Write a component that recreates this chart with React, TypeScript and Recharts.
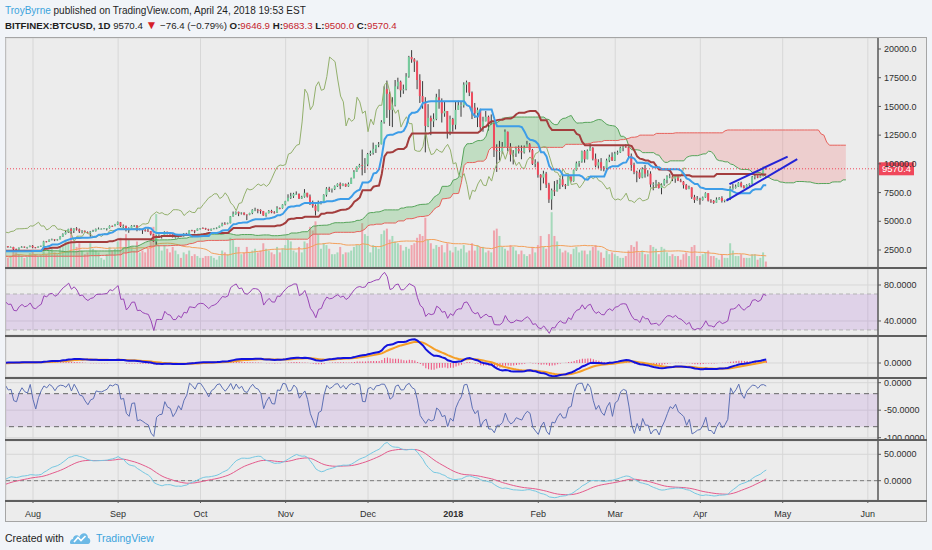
import React from 'react';
import {
  ComposedChart, Bar, Line, Area, XAxis, YAxis, CartesianGrid, ReferenceLine, ReferenceArea,
} from 'recharts';

// BITFINEX:BTCUSD daily. Closes before the visible window only warm up the indicators.
// Feb 20 2017 .. Jul 21 2017
const histClose = [
  1050, 1115, 1120, 1170, 1175, 1150, 1165, 1190, 1190,
  1225, 1250, 1280, 1260, 1270, 1275, 1230, 1150, 1190, 1110, 1180, 1225, 1240, 1245, 1255, 1170, 1070, 960, 1020, 1045, 1115, 1040, 1040, 935, 965, 970, 1045, 1045, 1040, 1035, 1080,
  1090, 1100, 1150, 1140, 1130, 1190, 1195, 1180, 1200, 1210, 1225, 1210, 1180, 1190, 1190, 1185, 1210, 1220, 1230, 1255, 1260, 1250, 1250, 1250, 1270, 1305, 1340, 1330, 1340, 1350,
  1420, 1455, 1490, 1520, 1530, 1560, 1550, 1640, 1700, 1760, 1800, 1690, 1760, 1760, 1700, 1720, 1800, 1870, 1960, 2040, 2045, 2150, 2280, 2460, 2330, 2180, 2050, 2200, 2280, 2180, 2300,
  2420, 2480, 2540, 2520, 2690, 2860, 2700, 2790, 2810, 2890, 2980, 2650, 2720, 2490, 2440, 2500, 2650, 2520, 2600, 2740, 2650, 2700, 2700, 2580, 2560, 2460, 2570, 2560, 2530, 2480,
  2420, 2530, 2580, 2590, 2610, 2600, 2500, 2560, 2500, 2340, 2330, 2400, 2350, 2220, 1970, 1900, 2240, 2300, 2270, 2830, 2700,
];

// visible bars, Jul 22 2017 .. Apr 25 2018 (open = previous close)
const close = [
  2830, 2750, 2760, 2560, 2540, 2700, 2790, 2720, 2760, 2870,
  2730, 2700, 2800, 2860, 3250, 3220, 3390, 3420, 3350, 3430, 3650, 3880, 4060, 4320, 4160, 4380, 4290, 4120, 4170, 4060, 4000, 4110, 4150, 4330, 4350, 4350, 4370, 4390, 4600, 4580, 4740,
  4920, 4580, 4600, 4240, 4380, 4610, 4620, 4300, 4320, 4220, 4180, 4150, 3870, 3240, 3700, 3700, 3700, 4090, 3920, 3880, 3620, 3620, 3790, 3680, 3930, 3890, 4210, 4190, 4170, 4360,
  4400, 4390, 4310, 4220, 4330, 4370, 4440, 4600, 4780, 4760, 4830, 5430, 5640, 5820, 5680, 5750, 5590, 5560, 5720, 6000, 6010, 5990, 5890, 5500, 5720, 5900, 5770, 5760, 6150, 6140, 6460,
  6750, 7050, 7180, 7390, 7390, 6980, 7130, 7480, 7150, 6600, 6360, 5920, 6550, 6620, 7300, 7850, 7730, 7800, 8050, 8250, 8100, 8240, 8040, 8250, 8750, 9300, 9750, 9900, 9850, 9950,
  10850, 10950, 11300, 11620, 11700, 13650, 16500, 16100, 14700, 15100, 16750, 17150, 16400, 16500, 17600, 19300, 19100, 18900, 17300, 15900, 15400, 13300, 14000, 13700, 13900, 15800, 15400, 14400, 14600, 12800, 13900,
  13400, 14700, 15100, 15100, 16900, 17100, 16200, 14900, 14400, 14700, 13200, 13700, 14100, 13500, 13500, 11200, 11100, 11100, 11500, 12800, 11500, 10800, 10900, 11300, 11100, 11000, 11400, 11700, 11200, 10000, 10100,
  9050, 8800, 9150, 8200, 6900, 7700, 7600, 8250, 8650, 8150, 8100, 8900, 8500, 9450, 10050, 10200, 11100, 10400, 11150, 11400, 10450, 9850, 10150, 9650, 9600, 10300, 10600, 10300,
  10900, 11000, 11400, 11500, 11450, 10700, 9900, 9300, 9250, 8800, 9550, 9150, 9150, 8200, 8250, 8300, 7900, 8200, 8600, 8900, 8900, 8700, 8900, 8550, 8450, 8150, 7800, 7950, 7100, 6850, 6950,
  6850, 7080, 7450, 6800, 6780, 6620, 6900, 7030, 6770, 6840, 6950, 7900, 7900, 8020, 8350, 8050, 7900, 8160, 8270, 8850, 8920, 8800, 8950, 9646.9, 9570.4,
];

const high = [
  2880, 2840, 2800, 2780, 2620, 2720, 2830, 2800, 2770, 2890,
  2930, 2760, 2820, 2880, 3300, 3280, 3420, 3490, 3440, 3460, 3700, 3950, 4190, 4350, 4430, 4400, 4490, 4370, 4230, 4200, 4110, 4160, 4260, 4370, 4460, 4380, 4410, 4400, 4640, 4630, 4770,
  4980, 4940, 4720, 4620, 4470, 4660, 4680, 4670, 4380, 4340, 4310, 4380, 4160, 3900, 3780, 3860, 3790, 4130, 4090, 4050, 3900, 3730, 3820, 3800, 3970, 3990, 4220, 4260, 4220, 4370,
  4410, 4470, 4430, 4350, 4370, 4420, 4470, 4620, 4880, 4920, 4880, 5450, 5850, 5860, 5840, 5780, 5770, 5600, 5740, 6050, 6180, 6080, 6040, 5900, 5750, 5980, 6000, 5880, 6310, 6200, 6480,
  6780, 7350, 7480, 7480, 7600, 7410, 7220, 7800, 7480, 7330, 6800, 6470, 6800, 6750, 7350, 7970, 8000, 7850, 8120, 8300, 8380, 8300, 8290, 8380, 8800, 9450, 9780, 10000, 11250, 10500,
  10950, 11150, 11850, 11650, 11900, 13800, 16750, 17250, 16300, 15800, 17300, 17500, 17250, 16900, 17900, 19400, 19900, 19200, 19000, 17800, 17200, 15800, 15200, 14200, 14400, 16100, 16500, 15700, 15400, 14600, 14200,
  14000, 15400, 15500, 15400, 17100, 17250, 17100, 16300, 15300, 14900, 14800, 14100, 14600, 14200, 14300, 13600, 11700, 12000, 11900, 13000, 12800, 11800, 11200, 11500, 11600, 11600, 11600, 12000, 11800, 11300, 10400,
  10200, 9100, 9400, 9300, 8350, 7850, 8500, 8600, 8750, 9000, 8250, 8950, 8900, 9500, 10200, 10250, 11150, 11200, 11250, 11800, 11450, 10900, 10400, 10500, 9800, 10450, 10800, 11000,
  11050, 11150, 11500, 11550, 11700, 11500, 10900, 10100, 9400, 9500, 9700, 9900, 9450, 9350, 8400, 8600, 8400, 8300, 8700, 9000, 9150, 9100, 8950, 9000, 8700, 8500, 8250, 8100, 7950, 7300, 7200,
  7050, 7150, 7520, 7450, 6920, 6850, 7080, 7100, 7180, 6880, 6980, 8050, 8250, 8200, 8400, 8450, 8150, 8220, 8300, 8950, 9050, 9000, 9000, 9750, 9683.3,
];

const low = [
  2670, 2700, 2710, 2490, 2450, 2530, 2690, 2690, 2620, 2740,
  2650, 2650, 2690, 2760, 2850, 3160, 3200, 3350, 3270, 3320, 3420, 3640, 3850, 3990, 3900, 3980, 4190, 3980, 3950, 4030, 3960, 3650, 4070, 4110, 4300, 4280, 4330, 4200, 4370, 4510, 4570,
  4690, 4500, 4410, 4120, 4000, 4380, 4500, 4130, 4210, 3900, 4100, 4080, 3770, 3200, 2970, 3560, 3500, 3700, 3850, 3860, 3590, 3500, 3570, 3650, 3670, 3860, 3890, 4140, 3950, 4160,
  4280, 4360, 4260, 4170, 4170, 4310, 4320, 4430, 4560, 4730, 4740, 4820, 5400, 5570, 5450, 5590, 5530, 5100, 5530, 5620, 5880, 5700, 5650, 5480, 5400, 5680, 5700, 5670, 5720, 6050, 6100,
  6380, 6750, 6950, 7030, 7300, 6940, 6950, 7060, 7070, 6420, 6180, 5500, 5850, 6470, 6600, 7150, 7560, 7500, 7720, 7990, 7800, 8060, 8000, 8000, 8250, 8740, 9300, 9680, 9000, 9200,
  9800, 10700, 10800, 10950, 11450, 11700, 13500, 14000, 13300, 13200, 15000, 16500, 15800, 16100, 16400, 17500, 18800, 18000, 16500, 15300, 14800, 11000, 13200, 12500, 13200, 13800, 14800, 13600, 14100, 12200, 12500,
  12800, 13000, 14700, 14100, 14900, 16200, 15900, 13900, 14000, 13200, 12900, 12800, 13700, 12900, 13400, 10600, 9300, 10300, 10900, 11500, 11100, 10200, 9950, 10600, 10900, 10400, 10900, 11400, 11000, 9900, 9700,
  8800, 7700, 8300, 7900, 6600, 6000, 7200, 7600, 7800, 8000, 7800, 8100, 8400, 8450, 9400, 9750, 10100, 10100, 10400, 11150, 10300, 9700, 9600, 9400, 9350, 9400, 10150, 10250,
  10250, 10800, 10950, 11100, 11400, 10550, 9400, 9100, 8400, 8700, 8750, 8800, 8900, 7950, 7700, 7900, 7850, 7350, 8100, 8300, 8750, 8500, 8350, 8500, 8400, 7850, 7750, 7800, 6950, 6600, 6800,
  6450, 6800, 7050, 6720, 6600, 6520, 6620, 6880, 6630, 6650, 6820, 6850, 7750, 7850, 8000, 7950, 7850, 7850, 8080, 8200, 8650, 8750, 8800, 8900, 9500,
];

// thousands of BTC
const volume = [
  30, 25, 28, 45, 40, 35, 30, 25, 28, 38,
  45, 35, 30, 32, 60, 35, 45, 50, 40, 35, 55, 60, 75, 70, 95, 65, 55, 65, 45, 35, 40, 65, 50, 45, 40, 25, 20, 35, 55, 45, 50,
  70, 80, 55, 90, 75, 55, 45, 70, 40, 45, 40, 50, 70, 110, 145, 60, 45, 60, 50, 40, 55, 45, 35, 25, 40, 35, 45, 30, 35, 30,
  25, 25, 30, 30, 30, 25, 20, 30, 45, 40, 35, 80, 75, 55, 55, 35, 40, 55, 40, 45, 50, 40, 45, 65, 50, 45, 40, 35, 55, 40, 50,
  60, 75, 70, 45, 40, 55, 40, 70, 65, 110, 100, 125, 90, 50, 65, 60, 50, 35, 35, 40, 55, 35, 40, 40, 45, 55, 60, 60, 120, 90,
  85, 40, 60, 55, 50, 90, 100, 105, 75, 85, 70, 65, 60, 45, 55, 50, 60, 65, 80, 90, 85, 135, 75, 65, 50, 60, 55, 60, 40, 65, 45,
  40, 55, 45, 50, 60, 40, 45, 65, 45, 60, 55, 55, 40, 45, 40, 100, 105, 85, 55, 50, 45, 60, 55, 45, 35, 45, 35, 30, 35, 55, 40,
  60, 85, 55, 50, 90, 150, 85, 70, 50, 40, 45, 40, 35, 50, 55, 40, 45, 45, 35, 45, 55, 60, 45, 40, 25, 45, 35, 40,
  35, 30, 25, 25, 30, 45, 60, 55, 70, 40, 45, 35, 35, 60, 55, 50, 35, 55, 50, 40, 30, 35, 30, 30, 20, 35, 40, 30, 55, 60, 30,
  30, 35, 40, 45, 30, 30, 25, 20, 35, 25, 25, 65, 45, 30, 30, 35, 25, 25, 25, 35, 35, 20, 25, 40, 15,
];

// x is days since Aug 1 2017
const monthTicks = [0, 31, 61, 92, 122, 153, 184, 212, 243, 273, 304];
const monthLabels = ['Aug', 'Sep', 'Oct', 'Nov', 'Dec', '2018', 'Feb', 'Mar', 'Apr', 'May', 'Jun'];
const priceTicks = [2500, 5000, 7500, 10000, 12500, 15000, 17500, 20000];
// hand-drawn rising channel
const channelLower = [{ x: 252.5, y: 6790 }, { x: 278.3, y: 10410 }];
const channelUpper = [{ x: 253.6, y: 8240 }, { x: 274.8, y: 10630 }];
const lastPrice = 9570.4;

const FIRST_T = -10; // Jul 22 2017
const SHIFT = 29;    // ichimoku displacement 30
const X_DOMAIN: [number, number] = [-9.83, 307.7];
const FONT = '"Liberation Sans", Arial, Helvetica, sans-serif';
const GRID = '#d7d7d7';
const AXIS = '#5a5a5a';

// ---------- indicators ----------
const HIST = histClose.length;
const allC = [...histClose, ...close];
const allH = [...histClose, ...high];
const allL = [...histClose, ...low];
const N = allC.length;

function ema(src: number[], len: number) {
  const a = 2 / (len + 1);
  const out: number[] = [];
  src.forEach((v, i) => out.push(i === 0 ? v : a * v + (1 - a) * out[i - 1]));
  return out;
}

function extremes(n: number, len: number) {
  let hi = -Infinity;
  let lo = Infinity;
  for (let k = Math.max(0, n - len + 1); k <= n; k++) {
    hi = Math.max(hi, allH[k]);
    lo = Math.min(lo, allL[k]);
  }
  return [lo, hi];
}
const mid = (n: number, len: number) => {
  const [lo, hi] = extremes(n, len);
  return (lo + hi) / 2;
};

const tenkan = allC.map((_, n) => mid(n, 20));
const kijun = allC.map((_, n) => mid(n, 60));
const spanA = tenkan.map((v, n) => (v + kijun[n]) / 2);
const spanB = allC.map((_, n) => mid(n, 120));

const rsi: number[] = [];
{
  let ag = 0;
  let al = 0;
  for (let n = 0; n < N; n++) {
    const ch = n ? allC[n] - allC[n - 1] : 0;
    ag = (ag * 13 + Math.max(ch, 0)) / 14;
    al = (al * 13 + Math.max(-ch, 0)) / 14;
    rsi.push(al === 0 ? 50 : 100 - 100 / (1 + ag / al));
  }
}

const ema12 = ema(allC, 12);
const ema26 = ema(allC, 26);
const macd = ema12.map((v, n) => v - ema26[n]);
const signal = ema(macd, 9);

const wpr = allC.map((c, n) => {
  const [lo, hi] = extremes(n, 14);
  return hi === lo ? -50 : (-100 * (hi - c)) / (hi - lo);
});

const pc = allC.map((c, n) => (n ? c - allC[n - 1] : 0));
const ds = ema(ema(pc, 25), 13);
const da = ema(ema(pc.map(Math.abs), 25), 13);
const tsi = ds.map((v, n) => (da[n] ? (100 * v) / da[n] : 0));
const tsiSig = ema(tsi, 13);

const rows: any[] = [];
for (let t = FIRST_T; t <= FIRST_T + close.length - 1 + SHIFT; t++) {
  const j = t - FIRST_T;
  const n = j + HIST;
  const r: any = { t };
  if (n < N) {
    const o = allC[n - 1];
    r.o = o; r.h = allH[n]; r.l = allL[n]; r.c = allC[n];
    r.hl = [r.l, r.h];
    r.up = r.c >= o;
    r.vol = volume[j];
    const from = Math.max(0, j - 19);
    const win = volume.slice(from, j + 1);
    r.volMA = win.reduce((s, v) => s + v, 0) / win.length;
    r.tenkan = tenkan[n];
    r.kijun = kijun[n];
    r.rsi = rsi[n];
    r.macd = macd[n];
    r.signal = signal[n];
    r.hist = macd[n] - signal[n];
    r.wpr = wpr[n];
    r.tsi = tsi[n];
    r.tsiSig = tsiSig[n];
  }
  if (n + SHIFT < N) r.chikou = allC[n + SHIFT];
  const a = spanA[n - SHIFT];
  const b = spanB[n - SHIFT];
  r.spanA = a;
  r.spanB = b;
  r.green = a >= b ? [b, a] : [a, a];
  r.red = b > a ? [a, b] : [b, b];
  rows.push(r);
}

// ---------- drawing helpers ----------
const Candle = (p: any) => {
  const { x, width, payload } = p;
  let { y, height } = p;
  if (!payload || payload.h == null || !isFinite(y)) return null;
  if (height < 0) { y += height; height = -height; }
  const { o, h, l, c } = payload;
  const cx = x + width / 2;
  const span = h - l || 1;
  const py = (v: number) => y + ((h - v) / span) * height;
  const top = py(Math.max(o, c));
  const bot = py(Math.min(o, c));
  return (
    <g>
      <line x1={cx} x2={cx} y1={y} y2={y + height} stroke="#262626" strokeWidth={0.9} />
      <rect x={cx - 1} y={top} width={2} height={Math.max(bot - top, 0.8)} fill={payload.up ? '#74cc9c' : '#ef4a5d'} />
    </g>
  );
};

const VolBar = (p: any) => {
  const { x, y, width, height, payload } = p;
  if (!payload || payload.vol == null || !isFinite(y)) return null;
  const cx = x + width / 2;
  return <rect x={cx - 1} y={y} width={2} height={Math.max(height, 0)} fill={payload.up ? '#a5d9bb' : '#efa4ad'} />;
};

const yTick = (digits: number) => (p: any) => (
  <text x={p.x} y={p.y} dy={3.2} fontSize={9} fill="#303030" fontFamily={FONT}>
    {Number(p.payload.value).toFixed(digits)}
  </text>
);

const xTick = (p: any) => {
  const label = monthLabels[monthTicks.indexOf(p.payload.value)] ?? '';
  return (
    <text x={p.x} y={p.y} dy={12} textAnchor="middle" fontSize={9} fill="#303030" fontFamily={FONT}
      fontWeight={label === '2018' ? 'bold' : 'normal'}>
      {label}
    </text>
  );
};

const PriceTag = (p: any) => {
  const vb = p.viewBox;
  if (!vb) return null;
  const x = vb.x + vb.width + 1;
  return (
    <g>
      <rect x={x} y={vb.y - 6.5} width={35} height={13} fill="#f0475b" />
      <text x={x + 3} y={vb.y + 3.3} fontSize={9.5} fill="#ffffff" fontFamily={FONT}>{lastPrice.toFixed(1)}</text>
    </g>
  );
};

const margin = { top: 0, right: 0, bottom: 0, left: 1 };
const hiddenX = (
  <XAxis dataKey="t" type="number" domain={X_DOMAIN} ticks={monthTicks} allowDataOverflow hide />
);
const rightAxis = (domain: [number, number], ticks: number[], digits: number, hide = false) => (
  <YAxis orientation="right" width={49} domain={domain} ticks={ticks} allowDataOverflow interval={0}
    tickSize={3} tickMargin={3} tickLine={hide ? false : { stroke: AXIS }}
    axisLine={hide ? false : { stroke: AXIS, strokeWidth: 1.5 }} tick={hide ? false : yTick(digits)} />
);

const pane = (top: number): React.CSSProperties => ({ position: 'absolute', left: 5, top });
const Sep = ({ top }: { top: number }) => (
  <div style={{ position: 'absolute', left: 5, top, width: 922, height: 2, background: '#5e5e5e' }} />
);

function Header() {
  const red = { color: '#c5252e' };
  return (
    <div style={{ position: 'absolute', left: 5, top: 3, fontSize: 10, color: '#1e1e1e', whiteSpace: 'nowrap', lineHeight: '15px' }}>
      <div><span style={{ color: '#3ba3dc' }}>TroyByrne</span> published on TradingView.com, April 24, 2018 19:53 EST</div>
      <div style={{ fontSize: 9.7 }}>
        <b>BITFINEX:BTCUSD, 1D</b> 9570.4 <span style={{ color: '#d61f2a', fontSize: 12 }}>▼</span> −76.4 (−0.79%){' '}
        <b>O:</b><span style={red}>9646.9</span> <b>H:</b><span style={red}>9683.3</span>{' '}
        <b>L:</b><span style={red}>9500.0</span> <b>C:</b><span style={red}>9570.4</span>
      </div>
    </div>
  );
}

function Footer() {
  return (
    <div style={{ position: 'absolute', left: 5, top: 530, fontSize: 10.5, color: '#1e1e1e', whiteSpace: 'nowrap', display: 'flex', alignItems: 'center' }}>
      <span>Created with</span>
      <svg width={22} height={15} style={{ margin: '0 4px 0 6px' }}>
        <path d="M1 14 C-1 14 0 9 3 9 C3 5 8 4 9.5 7 C11 2 18 2 18 8 C21 8 21 14 18 14 Z" fill="#6cb9e6" />
        <path d="M4 12 L8 7.5 L11 10.5 L15.5 6" stroke="#ffffff" strokeWidth={1.6} fill="none" />
      </svg>
      <span style={{ color: '#3ba3dc' }}>TradingView</span>
    </div>
  );
}

export default function App() {
  return (
    <div style={{ position: 'relative', width: 932, height: 550, background: '#f1f4f8', fontFamily: FONT, overflow: 'hidden' }}>
      <style>{'body{margin:0}'}</style>
      <Header />
      <div style={{ position: 'absolute', left: 5, top: 37, width: 922, height: 485, background: '#ececec', border: '1px solid #a5a5a5', boxSizing: 'border-box' }} />

      {/* main pane: grid + volume behind */}
      <div style={pane(38)}>
        <ComposedChart width={922} height={229} data={rows} margin={margin}>
          <CartesianGrid stroke={GRID} />
          {hiddenX}
          {rightAxis([1020, 20957], priceTicks, 1, true)}
          <YAxis yAxisId="v" hide domain={[0, 627]} allowDataOverflow />
          <Bar yAxisId="v" dataKey="vol" barSize={2} shape={VolBar} isAnimationActive={false} />
          <Line yAxisId="v" dataKey="volMA" stroke="#f3a05a" strokeWidth={1} dot={false} activeDot={false} isAnimationActive={false} />
        </ComposedChart>
      </div>

      {/* main pane: ichimoku + candles */}
      <div style={pane(38)}>
        <ComposedChart width={922} height={229} data={rows} margin={margin}>
          {hiddenX}
          {rightAxis([1020, 20957], priceTicks, 1)}
          <Area dataKey="green" stroke="none" fill="#5cb85f" fillOpacity={0.3} isAnimationActive={false} dot={false} activeDot={false} />
          <Area dataKey="red" stroke="none" fill="#f06262" fillOpacity={0.22} isAnimationActive={false} dot={false} activeDot={false} />
          <Line dataKey="spanA" stroke="#56a45a" strokeWidth={1} dot={false} activeDot={false} isAnimationActive={false} />
          <Line dataKey="spanB" stroke="#e7615b" strokeWidth={1} dot={false} activeDot={false} isAnimationActive={false} />
          <Line dataKey="chikou" stroke="#93b06c" strokeWidth={1} dot={false} activeDot={false} isAnimationActive={false} />
          <Bar dataKey="hl" barSize={2} shape={Candle} isAnimationActive={false} />
          <Line dataKey="kijun" stroke="#a33d3d" strokeWidth={2} dot={false} activeDot={false} isAnimationActive={false} />
          <Line dataKey="tenkan" stroke="#3d9de8" strokeWidth={2} dot={false} activeDot={false} isAnimationActive={false} />
          <ReferenceLine y={lastPrice} stroke="#f0475b" strokeDasharray="1 2" label={PriceTag} />
          <ReferenceLine segment={channelLower} stroke="#2323d6" strokeWidth={2} ifOverflow="visible" />
          <ReferenceLine segment={channelUpper} stroke="#2323d6" strokeWidth={2} ifOverflow="visible" />
        </ComposedChart>
      </div>

      {/* RSI */}
      <div style={pane(269)}>
        <ComposedChart width={922} height={66} data={rows} margin={margin}>
          <CartesianGrid stroke={GRID} />
          {hiddenX}
          {rightAxis([24.4, 97.8], [40, 80], 4)}
          <ReferenceArea y1={30} y2={70} fill="#9b4dd6" fillOpacity={0.16} stroke="none" />
          <ReferenceLine y={70} stroke="#b3b3b3" strokeDasharray="4 3" />
          <ReferenceLine y={30} stroke="#b3b3b3" strokeDasharray="4 3" />
          <Line dataKey="rsi" stroke="#9a46b6" strokeWidth={1} dot={false} activeDot={false} isAnimationActive={false} />
        </ComposedChart>
      </div>

      {/* MACD */}
      <div style={pane(337)}>
        <ComposedChart width={922} height={40} data={rows} margin={margin}>
          <CartesianGrid stroke={GRID} />
          {hiddenX}
          {rightAxis([-1512, 2808], [0], 4)}
          <Bar dataKey="hist" barSize={1} fill="#ef4c7a" isAnimationActive={false} />
          <Line dataKey="signal" stroke="#f59e26" strokeWidth={2} dot={false} activeDot={false} isAnimationActive={false} />
          <Line dataKey="macd" stroke="#1212dc" strokeWidth={2} dot={false} activeDot={false} isAnimationActive={false} />
        </ComposedChart>
      </div>

      {/* Williams %R */}
      <div style={pane(379)}>
        <ComposedChart width={922} height={60} data={rows} margin={margin}>
          <CartesianGrid stroke={GRID} />
          {hiddenX}
          {rightAxis([-102.4, 6.7], [-100, -50, 0], 4)}
          <ReferenceArea y1={-80} y2={-20} fill="#9b4dd6" fillOpacity={0.14} stroke="none" />
          <ReferenceLine y={-20} stroke="#666666" strokeDasharray="5 4" />
          <ReferenceLine y={-80} stroke="#666666" strokeDasharray="5 4" />
          <Line dataKey="wpr" stroke="#5d70b4" strokeWidth={1} dot={false} activeDot={false} isAnimationActive={false} />
        </ComposedChart>
      </div>

      {/* TSI + time axis */}
      <div style={pane(441)}>
        <ComposedChart width={922} height={81} data={rows} margin={margin}>
          <CartesianGrid stroke={GRID} />
          <XAxis dataKey="t" type="number" domain={X_DOMAIN} ticks={monthTicks} allowDataOverflow interval={0}
            height={22} tickSize={3} tickMargin={2} axisLine={false} tickLine={{ stroke: AXIS }} tick={xTick} />
          {rightAxis([-36.6, 75.2], [0, 50], 4)}
          <ReferenceLine y={0} stroke="#7a7a7a" strokeDasharray="4 3" />
          <Line dataKey="tsiSig" stroke="#e45b8c" strokeWidth={1} dot={false} activeDot={false} isAnimationActive={false} />
          <Line dataKey="tsi" stroke="#76c8e2" strokeWidth={1} dot={false} activeDot={false} isAnimationActive={false} />
        </ComposedChart>
      </div>

      <Sep top={267} />
      <Sep top={335} />
      <Sep top={377} />
      <Sep top={439} />
      <Sep top={500} />
      <Footer />
    </div>
  );
}
